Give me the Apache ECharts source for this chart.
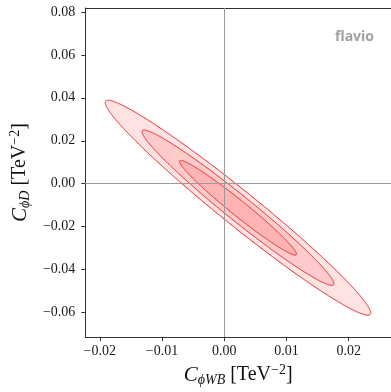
<!DOCTYPE html>
<html><head><meta charset="utf-8">
<script src="https://cdn.jsdelivr.net/npm/echarts@6/dist/echarts.min.js"></script>
<style>html,body{margin:0;padding:0;background:#fff}#c{width:391px;height:392px}</style>
</head><body><div id="c"></div>
<script>
// Gaussian fit
const centerX = 0.0022;      // best-fit C_phiWB
const centerY = -0.0112;     // best-fit C_phiD
const sigmaX = 0.0062;
const sigmaY = 0.01455;
const correlation = -0.978;
const deltaChi2Levels = [11.83, 6.18, 2.30]; // 3σ, 2σ, 1σ contours (2 d.o.f.)

const xRange = [-0.02233, 0.02679];
const yRange = [-0.07145, 0.08183];
const xTickValues = [-0.02, -0.01, 0, 0.01, 0.02];
const xTickLabels = ['−0.02', '−0.01', '0.00', '0.01', '0.02'];
const yTickValues = [-0.06, -0.04, -0.02, 0, 0.02, 0.04, 0.06, 0.08];
const yTickLabels = ['−0.06', '−0.04', '−0.02', '0.00', '0.02', '0.04', '0.06', '0.08'];

const SERIF = '"Liberation Serif", "DejaVu Serif", serif';
const AXIS_COLOR = '#333';

function labelFor(values, labels) {
  return function (v) {
    let best = 0, bd = Infinity;
    values.forEach(function (t, i) { const d = Math.abs(t - v); if (d < bd) { bd = d; best = i; } });
    return labels[best];
  };
}

const nameRich = {
  c: { fontFamily: SERIF, fontStyle: 'italic', fontSize: 21, lineHeight: 24, color: '#111' },
  s: { fontFamily: SERIF, fontStyle: 'italic', fontSize: 14, lineHeight: 15, verticalAlign: 'bottom', color: '#111' },
  t: { fontFamily: SERIF, fontSize: 20, lineHeight: 24, color: '#111' },
  p: { fontFamily: SERIF, fontSize: 14, lineHeight: 14, verticalAlign: 'top', color: '#111' }
};

function renderEllipse(params, api) {
  const level = api.value(2);
  const k = Math.sqrt(level);
  const mx = api.value(0), my = api.value(1);
  const s = Math.sqrt(1 - correlation * correlation);
  const pts = [];
  for (let i = 0; i < 720; i++) {
    const t = i / 720 * 2 * Math.PI;
    const u = Math.cos(t), v = Math.sin(t);
    pts.push(api.coord([mx + k * sigmaX * u, my + k * sigmaY * (correlation * u + s * v)]));
  }
  return {
    type: 'polygon',
    shape: { points: pts },
    style: { fill: 'rgba(255,0,0,0.11)', stroke: 'rgb(232,32,36)', lineWidth: 1 }
  };
}

const chart = echarts.init(document.getElementById('c'), null, { renderer: 'canvas' });
chart.setOption({
  animation: false,
  backgroundColor: '#fff',
  grid: { left: 84, right: 0, top: 8, bottom: 49, containLabel: false },
  xAxis: [{
    type: 'value', min: xRange[0], max: xRange[1], position: 'bottom',
    axisLine: { show: true, onZero: false, lineStyle: { color: AXIS_COLOR, width: 1 } },
    axisTick: { show: true, inside: false, length: 4, customValues: xTickValues, lineStyle: { color: AXIS_COLOR } },
    axisLabel: { customValues: xTickValues, formatter: labelFor(xTickValues, xTickLabels), fontFamily: SERIF, fontSize: 14, color: '#1a1a1a', margin: 7 },
    splitLine: { show: false },
    name: '{c|C}{s|ϕWB}{t| [TeV}{p|−2}{t|]}',
    nameLocation: 'middle', nameGap: 23,
    nameTextStyle: { rich: nameRich }
  }, {
    type: 'value', min: xRange[0], max: xRange[1], position: 'top',
    axisLine: { show: true, onZero: false, lineStyle: { color: AXIS_COLOR, width: 1 } },
    axisTick: { show: false }, axisLabel: { show: false }, splitLine: { show: false }
  }],
  yAxis: {
    type: 'value', min: yRange[0], max: yRange[1],
    axisLine: { show: true, onZero: false, lineStyle: { color: AXIS_COLOR, width: 1 } },
    axisTick: { show: true, inside: false, length: 4, customValues: yTickValues, lineStyle: { color: AXIS_COLOR } },
    axisLabel: { customValues: yTickValues, formatter: labelFor(yTickValues, yTickLabels), fontFamily: SERIF, fontSize: 14, color: '#1a1a1a', margin: 10 },
    splitLine: { show: false },
    name: '{c|C}{s|ϕD}{t| [TeV}{p|−2}{t|]}',
    nameLocation: 'middle', nameGap: 52,
    nameTextStyle: { rich: nameRich }
  },
  graphic: [{
    type: 'text', right: 17, top: 30,
    style: { text: 'flavio', fill: '#a0a0a0', font: 'bold 14px "Open Sans", "DejaVu Sans", sans-serif' }
  }],
  series: [{
    type: 'custom',
    coordinateSystem: 'cartesian2d',
    xAxisIndex: 0,
    renderItem: renderEllipse,
    encode: { x: 0, y: 1 },
    data: deltaChi2Levels.map(function (l) { return [centerX, centerY, l]; }),
    z: 2,
    silent: true,
    markLine: {
      silent: true, symbol: ['none', 'none'], animation: false,
      label: { show: false },
      lineStyle: { color: '#9a9a9a', width: 1, type: 'solid' },
      data: [{ xAxis: 0 }, { yAxis: 0 }]
    }
  }]
});
</script>
</body></html>
